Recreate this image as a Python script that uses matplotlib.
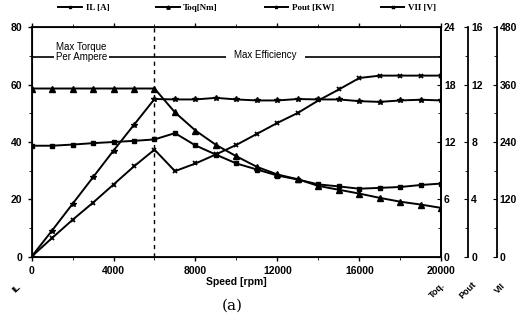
import matplotlib
matplotlib.use('Agg')
from matplotlib import pyplot as plt
from matplotlib import ticker
import numpy as np

matplotlib.rcParams['font.family'] = ['Liberation Sans', 'DejaVu Sans']
matplotlib.rcParams['font.weight'] = 'bold'

# speed [rpm]
speed = [0, 1000, 2000, 3000, 4000, 5000, 6000, 7000, 8000, 9000, 10000,
         11000, 12000, 13000, 14000, 15000, 16000, 17000, 18000, 19000, 20000]
# IL [A]  (left axis)
IL = [38.7, 38.7, 39.1, 39.6, 40.0, 40.4, 40.9, 43.1, 38.8, 35.6, 32.5,
      30.4, 28.3, 26.9, 25.2, 24.5, 23.7, 24.0, 24.3, 25.0, 25.5]
# Torque [Nm]
Toq = [17.6, 17.6, 17.6, 17.6, 17.6, 17.6, 17.6, 15.1, 13.2, 11.7, 10.5,
       9.4, 8.6, 8.1, 7.4, 7.0, 6.6, 6.15, 5.75, 5.45, 5.1]
# Pout [kW]
Pout = [0, 1.82, 3.68, 5.54, 7.4, 9.2, 11.0, 10.97, 10.97, 11.08, 10.97,
        10.9, 10.9, 11.0, 10.97, 10.97, 10.85, 10.8, 10.9, 10.95, 10.9]
# VII [V]
VII = [0, 39, 77, 113, 151, 189, 224, 179, 195, 214, 234,
       257, 280, 301, 327, 350, 374, 379, 379, 379, 379]

fig = plt.figure(figsize=(5.26, 3.22), dpi=100)
ax = fig.add_axes([0.060, 0.203, 0.779, 0.712])
ax_t = ax.twinx()
ax_p = ax.twinx()
ax_v = ax.twinx()

lk = dict(color='black', linewidth=1.4)
l1, = ax.plot(speed, IL, marker='s', markersize=3.5, label='IL [A]', **lk)
l2, = ax_t.plot(speed, Toq, marker='^', markersize=4, label='Toq[Nm]', **lk)
l3, = ax_p.plot(speed, Pout, marker='*', markersize=4, label='Pout [KW]', **lk)
l4, = ax_v.plot(speed, VII, marker='x', markersize=3.5, markeredgewidth=1.3, label='VII [V]', **lk)

ax.set_xlim(0, 20000)
ax.set_ylim(0, 80)
ax.set_xticks(range(0, 20001, 4000))
ax.xaxis.set_minor_locator(ticker.MultipleLocator(2000))
ax.set_yticks(range(0, 81, 20))
ax.yaxis.set_minor_locator(ticker.MultipleLocator(10))
ax.tick_params(axis='both', labelsize=7.5, width=1, length=3, direction='out')
ax.tick_params(axis='x', top=True, which='both')
for s in ax.spines.values():
    s.set_linewidth(1.3)

ax_t.set_ylim(0, 24)
ax_t.set_yticks(range(0, 25, 6))
ax_t.yaxis.set_minor_locator(ticker.MultipleLocator(3))

ax_p.set_ylim(0, 16)
ax_p.set_yticks(range(0, 17, 4))
ax_p.yaxis.set_minor_locator(ticker.MultipleLocator(2))
ax_p.spines['right'].set_position(('axes', 1.066))

ax_v.set_ylim(0, 480)
ax_v.set_yticks(range(0, 481, 120))
ax_v.yaxis.set_minor_locator(ticker.MultipleLocator(60))
ax_v.spines['right'].set_position(('axes', 1.136))

for a in (ax_t, ax_p, ax_v):
    a.tick_params(axis='y', which='both', labelsize=7.5, direction='in', length=3, pad=2)
    a.tick_params(axis='y', which='minor', length=2)
    a.spines['right'].set_linewidth(1.3)
for a in (ax_p, ax_v):
    for side in ('left', 'top', 'bottom'):
        a.spines[side].set_visible(False)

# operating region marks
ax.axvline(6000, color='black', linestyle=(0, (3, 3)), linewidth=1)
ax.plot([0, 20000], [69.5, 69.5], color='black', linewidth=1.2)
ax.text(2440, 71.3, 'Max Torque\nPer Ampere', fontsize=7, ha='center', va='center',
        fontweight='normal', linespacing=1.0,
        bbox=dict(facecolor='white', edgecolor='none', pad=1.5))
ax.text(11400, 70.3, 'Max Efficiency', fontsize=7, ha='center', va='center',
        fontweight='normal', bbox=dict(facecolor='white', edgecolor='none', pad=6))

fig.text(0.45, 0.124, 'Speed [rpm]', fontsize=7.5, ha='center', va='center')
fig.text(0.441, 0.052, '(a)', fontsize=11, ha='center', va='center',
         family='DejaVu Serif', fontweight='normal')
for x, y, s in [(0.032, 0.104, 'IL'), (0.831, 0.099, 'Toq.'),
                (0.890, 0.099, 'Pout'), (0.951, 0.104, 'VII')]:
    fig.text(x, y, s, fontsize=6.5, rotation=45, ha='center', va='center')

fig.legend(handles=[l1, l2, l3, l4], loc='center', bbox_to_anchor=(0.47, 0.975),
           ncol=4, frameon=False, handlelength=2.6, columnspacing=5.2,
           markerscale=0.6, handletextpad=0.4, prop={'family': 'Liberation Serif',
                                                    'weight': 'bold', 'size': 6.5})

fig.savefig('out.png', dpi=100)
